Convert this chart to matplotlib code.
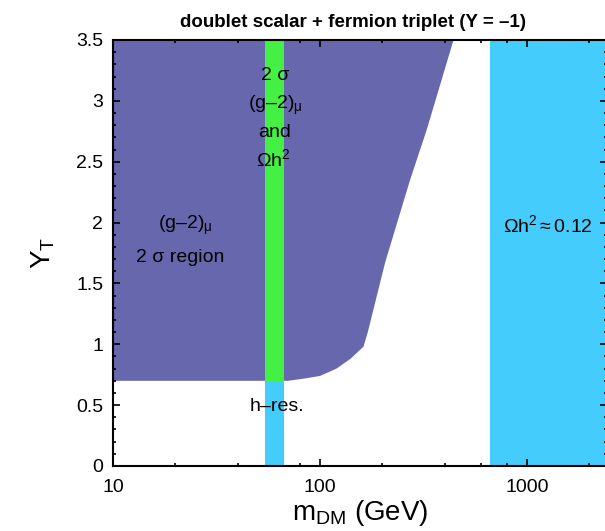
import numpy as np
import matplotlib
matplotlib.use("Agg")
import matplotlib.pyplot as plt
from matplotlib.ticker import FixedLocator, FuncFormatter, MultipleLocator

plt.rcParams['font.family'] = ['Liberation Sans', 'DejaVu Sans']
plt.rcParams['mathtext.fontset'] = 'custom'
plt.rcParams['mathtext.rm'] = 'Liberation Sans'
plt.rcParams['mathtext.it'] = 'Liberation Sans'

# boundary of the (g-2) 2 sigma region (lower / right edge)
g2_mass = [10, 70, 85, 100, 120, 140, 162, 170, 206, 272, 327, 441]
g2_ylow = [0.70, 0.70, 0.72, 0.74, 0.80, 0.88, 0.98, 1.10, 1.67, 2.35, 2.76, 3.5]

# h-resonance band
hres_mass = [54, 67]
hres_y = 0.70
# relic density band
relic_mass = [660, 2430]

xlim = (10, 2430)
ylim = (0, 3.5)

purple = '#6667ad'
green = '#44f044'
cyan = '#44ccfc'

fig = plt.figure(figsize=(6.05, 5.31), dpi=100)
ax = fig.add_axes([113/605, 65/531, 494/605, 426/531])
ax.set_xscale('log')

# purple region: between boundary and top
xs = g2_mass + [g2_mass[-1], g2_mass[0]]
ys = g2_ylow + [ylim[1], ylim[1]]
ax.fill(xs, ys, color=purple, lw=0, zorder=1)

# green band (g-2 and relic), cyan below (h-res)
ax.fill_between(hres_mass, hres_y, ylim[1], color=green, lw=0, zorder=2)
ax.fill_between(hres_mass, 0, hres_y, color=cyan, lw=0, zorder=2)

# relic band at large mass
ax.fill_between(relic_mass, 0, ylim[1], color=cyan, lw=0, zorder=1)

ax.set_xlim(*xlim)
ax.set_ylim(*ylim)

ax.xaxis.set_major_locator(FixedLocator([10, 100, 1000]))
ax.xaxis.set_minor_locator(FixedLocator([20, 40, 60, 80, 200, 400, 600, 800, 2000]))
ax.xaxis.set_major_formatter(FuncFormatter(lambda v, p: '%d' % v))
ax.xaxis.set_minor_formatter(FuncFormatter(lambda v, p: ''))
ax.yaxis.set_major_locator(MultipleLocator(0.5))
ax.yaxis.set_minor_locator(MultipleLocator(0.1))
ax.yaxis.set_major_formatter(FuncFormatter(lambda v, p: '%g' % v))

ax.tick_params(which='both', direction='in', top=True, right=True, labelsize=14, width=1.2)
ax.tick_params(which='major', length=5)
ax.tick_params(axis='x', which='major', pad=9)
ax.tick_params(axis='y', which='major', pad=7)
ax.tick_params(which='minor', length=2.5)
for s in ax.spines.values():
    s.set_linewidth(1.5)
    s.set_zorder(5)

ax.set_title('doublet scalar + fermion triplet (Y = \u20131)', fontsize=13.5,
             fontweight='bold', pad=9, x=0.486)
ax.set_xlabel(r'm$_{\rm DM}$ (GeV)', fontsize=20, labelpad=2)
ax.set_ylabel(r'Y$_{\rm T}$', fontsize=20, labelpad=14)

kw = dict(ha='center', va='center', fontsize=14, zorder=6)
ax.text(60.6, 3.21, '2 \u03c3', **kw)
ax.text(61, 2.96, '(g\u20132)$_{\\mu}$', **kw)
ax.text(60.6, 2.74, 'and', **kw)
ax.text(59.5, 2.52, r'$\Omega$h$^{2}$', **kw)
ax.text(22.3, 1.98, '(g\u20132)$_{\\mu}$', **kw)
ax.text(21.1, 1.71, '2 \u03c3 region', **kw)
ax.text(1263, 1.98, r'$\Omega$h$^{2}\approx$0.12', **kw)
ax.text(62, 0.485, 'h\u2013res.', **kw)

fig.savefig('out.png', dpi=100)
